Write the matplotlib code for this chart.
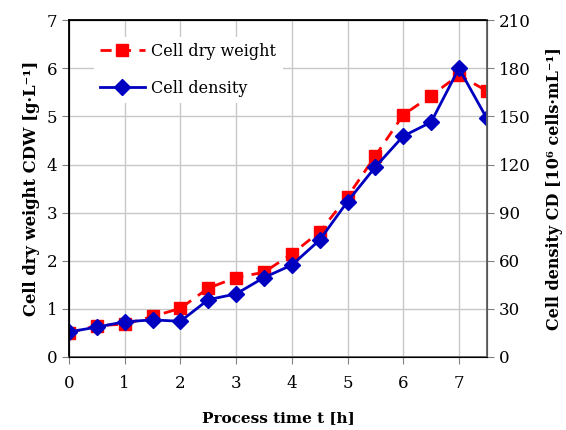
import matplotlib.pyplot as plt

plt.rcParams['font.family'] = ['DejaVu Serif']

# process time [h]
t = [0, 0.5, 1, 1.5, 2, 2.5, 3, 3.5, 4, 4.5, 5, 5.5, 6, 6.5, 7, 7.5]
# cell dry weight [g/L]
cdw = [0.50, 0.65, 0.68, 0.84, 1.01, 1.43, 1.65, 1.76, 2.14, 2.60, 3.33, 4.18, 5.03, 5.43, 5.86, 5.53]
# cell density [1e6 cells/mL]
cd = [15.6, 18.6, 21.9, 23.1, 22.2, 35.7, 39.3, 49.5, 57.3, 72.9, 96.9, 118.5, 137.7, 146.4, 180, 148.8]

fig, ax1 = plt.subplots(figsize=(5.66, 4.30), dpi=100)
fig.subplots_adjust(left=0.122, right=0.860, top=0.953, bottom=0.170)

l1, = ax1.plot(t, cdw, color='#FF0000', ls=(0, (4, 3)), lw=2, marker='s',
               markersize=9, label='Cell dry weight')
ax1.set_xlim(0, 7.5)
ax1.set_ylim(0, 7)
ax1.set_xticks(range(0, 8))
ax1.set_yticks(range(0, 8))
ax1.grid(True, color='#C8C8C8', lw=1)
ax1.set_axisbelow(True)
ax1.tick_params(labelsize=12, direction='out', length=5, color='#808080')
ax1.tick_params(axis='x', length=5, pad=8)
ax1.set_xlabel('Process time t [h]', fontsize=11, fontweight='bold', labelpad=14)
ax1.set_ylabel('Cell dry weight CDW [g·L⁻¹]', fontsize=11.8, fontweight='bold', labelpad=5)
for s in ['left', 'top']:
    ax1.spines[s].set_color('black')
    ax1.spines[s].set_linewidth(1.3)
ax1.spines['bottom'].set_color('#606060')
ax1.spines['bottom'].set_linewidth(1.3)

ax2 = ax1.twinx()
l2, = ax2.plot(t, cd, color='#0000C0', lw=2, marker='D', markersize=8,
               label='Cell density')
ax2.set_ylim(0, 210)
ax2.set_yticks(range(0, 211, 30))
ax2.tick_params(labelsize=12, direction='out', length=5, color='#808080')
ax2.set_ylabel('Cell density CD [10⁶ cells·mL⁻¹]', fontsize=11.5,
               fontweight='bold', labelpad=11)
ax2.spines['right'].set_color('#606060')
ax2.spines['right'].set_linewidth(1.3)

leg = ax2.legend(handles=[l1, l2], loc='upper left', bbox_to_anchor=(0.04, 0.975),
                 fontsize=11.5, handlelength=2.8, handletextpad=0.4, labelspacing=1.25,
                 frameon=True, facecolor='white', edgecolor='none', framealpha=1)

plt.savefig('out.png', dpi=100)
